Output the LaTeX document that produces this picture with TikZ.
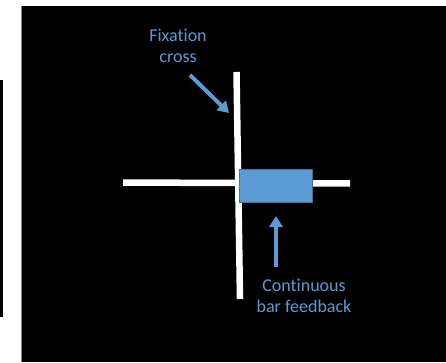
\documentclass[tikz,border=0pt]{standalone}
\usepackage{fontspec}
\setmainfont{Carlito}[Ligatures=NoCommon]
\usetikzlibrary{arrows.meta}
\definecolor{barblue}{HTML}{5B9BD5}
\definecolor{barborder}{HTML}{41719C}
\definecolor{txtblue}{HTML}{5B9BD5}
\tikzset{
  lbl/.style={text=txtblue, align=center, font=\fontsize{18pt}{21.5pt}\selectfont, inner sep=0pt},
  arr/.style={draw=barblue, line width=4pt, -{Triangle[width=13pt,length=11pt]}},
  crossline/.style={draw=white, line width=6.5pt}
}
\begin{document}
\begin{tikzpicture}[x=1pt,y=1pt]
\useasboundingbox (0,0) rectangle (446,362);
\fill[white] (0,0) rectangle (446,362);
\fill[black] (21,0) rectangle (446,356);
\draw[gray, line width=0.8pt] (21.4,0) -- (21.4,356);
\fill[black] (0,45) rectangle (3,282);
% cross
\coordinate (vtop) at (236.5,290);
\coordinate (vbot) at (240,63);
\coordinate (hl) at (123,179.5);
\coordinate (hr) at (350,178.5);
\draw[crossline] (vtop) -- (vbot);
\draw[crossline] (hl) -- (hr);
% bar
\node[draw=barborder, fill=barblue, line width=0.8pt, minimum width=73pt, minimum height=33pt, inner sep=0pt] (bar) at (275.5,176.5) {};
% labels
\node[lbl] (fix) at (178,316) {Fixation\\cross};
\node[lbl] (cont) at (304,66) {Continuous\\bar feedback};
% arrows
\coordinate (a1s) at (190,287);
\coordinate (a1e) at (229,249);
\coordinate (a2s) at (276,95);
\coordinate (a2e) at (276,146);
\draw[arr] (a1s) -- (a1e);
\draw[arr] (a2s) -- (a2e);
\end{tikzpicture}
\end{document}
